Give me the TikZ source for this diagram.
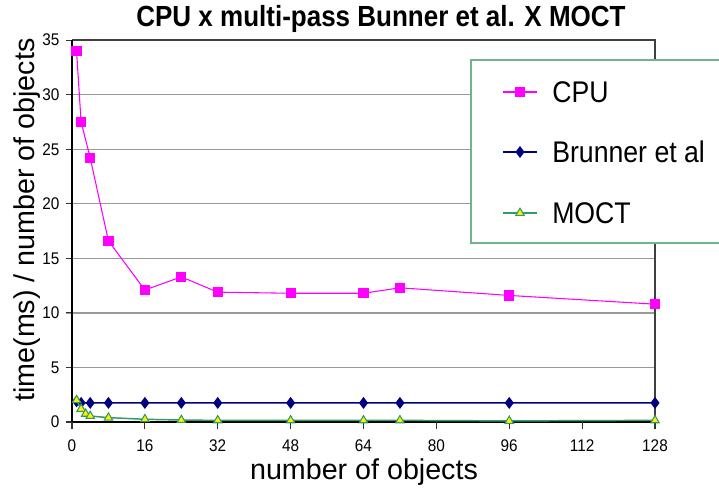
\documentclass[tikz,border=0pt]{standalone}
\usepackage{fontspec}
\setmainfont{Liberation Sans}
\usepackage{xcolor}
\definecolor{cpucol}{RGB}{255, 0, 255}
\definecolor{brucol}{RGB}{0, 0, 128}
\definecolor{moctcol}{RGB}{51, 153, 102}
\definecolor{legcol}{RGB}{110, 180, 140}
\usetikzlibrary{plotmarks}

\tikzset{
    grid line/.style={gray!80, line width=1pt},
    tick label/.style={font=\fontsize{11.5}{13}\selectfont, inner sep=1pt, yscale=1.1},
    axis label/.style={font=\fontsize{21.5}{24}\selectfont},
    leg text/.style={font=\fontsize{20}{23}\selectfont, anchor=west, inner sep=0pt, yscale=1.12},
    cpu line/.style={cpucol, line width=0.8pt, mark=square*, mark size=3.4pt, mark options={solid, fill=cpucol, draw=cpucol}},
    bru line/.style={brucol, line width=1.1pt, mark=diamond*, mark size=3.6pt, mark options={solid, fill=brucol, draw=brucol}},
    moct line/.style={moctcol, line width=1.1pt, mark=triangle*, mark size=3.6pt, mark options={solid, fill=yellow, draw=moctcol, line width=0.8pt}}
}

\begin{document}
\begin{tikzpicture}[x=0.75pt, y=-0.75pt]
    \useasboundingbox (0,0) rectangle (719,490);

    % Title
    \node[font=\bfseries\fontsize{19.5}{22}\selectfont, yscale=1.12] (title) at (381,19) {CPU x multi-pass Bunner et al. X MOCT};

    % Plot frame
    \coordinate (O) at (72,422);
    \begin{scope}[shift={(O)}, x=3.416pt, y=8.183pt]
        % grid and y ticks
        \foreach \v in {5,10,...,30}
            \draw[grid line] (-1.4,\v) -- (128,\v);
        \foreach \v in {0,5,...,35} {
            \draw[black!80, line width=0.8pt] (-1.4,\v) -- (0,\v);
            \node[tick label, anchor=east] (yt\v) at (-2.4,\v) {\v};
        }
        \draw[black!75, line width=1pt] (0,35) -- (128,35) -- (128,0);
        \draw[black, line width=1.6pt] (0,35) -- (0,0) -- (128,0);
        % x ticks
        \foreach \u in {0,16,...,128} {
            \draw[black!80, line width=0.8pt] (\u,0) -- (\u,-0.6);
            \node[tick label, anchor=north] (xt\u) at (\u,-1.5) {\u};
        }

        % Data
        \draw[cpu line] plot coordinates {(1,34.0) (2,27.5) (4,24.2) (8,16.6) (16,12.1) (24,13.3) (32,11.9) (48,11.8) (64,11.8) (72,12.3) (96,11.6) (128,10.8)};
        \draw[bru line] plot coordinates {(1,1.9) (2,1.75) (4,1.75) (8,1.75) (16,1.75) (24,1.75) (32,1.75) (48,1.75) (64,1.75) (72,1.75) (96,1.75) (128,1.75)};
        \draw[moct line] plot coordinates {(1,2.0) (2,1.2) (3,0.75) (4,0.55) (8,0.4) (16,0.25) (24,0.18) (32,0.15) (48,0.15) (64,0.15) (72,0.15) (96,0.1) (128,0.15)};
    \end{scope}

    % Axis labels
    \node[axis label] (xlab) at (364,472) {number of objects};
    \node[axis label, rotate=90] (ylab) at (27,220) {time(ms) / number of objects};

    % Legend
    \draw[legcol, line width=1pt, fill=white] (471,60) rectangle (730,243);
    \draw[cpu line, mark indices={2}] plot coordinates {(503,92) (520,92) (537,92)};
    \node[leg text] (lcpu) at (552,92) {CPU};
    \draw[bru line, mark indices={2}] plot coordinates {(503,152) (520,152) (537,152)};
    \node[leg text] (lbru) at (552,152) {Brunner et al};
    \draw[moct line, mark indices={2}] plot coordinates {(503,213) (520,213) (537,213)};
    \node[leg text] (lmoct) at (552,213) {MOCT};
\end{tikzpicture}
\end{document}
